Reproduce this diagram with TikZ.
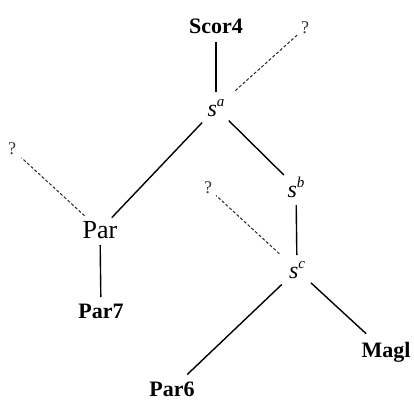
\documentclass[tikz,border=0pt]{standalone}
\usepackage{fontspec}
\setmainfont{Liberation Serif}
\begin{document}
\begin{tikzpicture}[x=1pt,y=-1pt,
  lab/.style={inner sep=0pt,font=\fontsize{22}{24}\selectfont\bfseries},
  plainlab/.style={inner sep=0pt,font=\fontsize{26}{28}\selectfont},
  svar/.style={inner sep=0pt,font=\fontsize{24}{24}\selectfont\itshape},
  qm/.style={inner sep=0pt,text=black!80,font=\fontsize{18}{18}\selectfont},
  edge/.style={line width=1.4pt},
  dashedge/.style={line width=1pt,black!85,dash pattern=on 3pt off 2pt}]
\useasboundingbox (0,0) rectangle (414,400);
\node[lab] (scor) at (216,26) {Scor4};
\node[qm] (qa) at (305,28) {?};
\node[svar] (sa) at (216,108) {s\raisebox{0.42em}{\fontsize{15}{15}\selectfont a}};
\node[plainlab] (par) at (100,230) {Par};
\node[qm] (q1) at (12,149) {?};
\node[lab] (par7) at (101,311) {Par7};
\node[svar] (sb) at (296,187) {s\raisebox{0.42em}{\fontsize{15}{15}\selectfont b}};
\node[qm] (q2) at (208,188) {?};
\node[svar] (sc) at (297,270) {s\raisebox{0.42em}{\fontsize{15}{15}\selectfont c}};
\node[lab] (par6) at (172,389) {Par6};
\node[lab] (magl) at (386,352) {Magl};

\draw[edge,shorten <=16pt,shorten >=16pt] (scor.center) -- (sa.center);
\draw[dashedge,shorten <=26pt,shorten >=9pt] (sa.center) -- (qa.center);
\draw[edge,shorten <=20pt,shorten >=17pt] (sa.center) -- (par.center);
\draw[edge,shorten <=18pt,shorten >=17pt] (sa.center) -- (sb.center);
\draw[dashedge,shorten <=21pt,shorten >=13pt] (par.center) -- (q1.center);
\draw[edge,shorten <=15pt,shorten >=14pt] (par.center) -- (par7.center);
\draw[edge,shorten <=18pt,shorten >=15pt] (sb.center) -- (sc.center);
\draw[dashedge,shorten <=24pt,shorten >=11pt] (sc.center) -- (q2.center);
\draw[edge,shorten <=21pt,shorten >=21pt] (sc.center) -- (par6.center);
\draw[edge,shorten <=19pt,shorten >=27pt] (sc.center) -- (magl.center);
\end{tikzpicture}
\end{document}
